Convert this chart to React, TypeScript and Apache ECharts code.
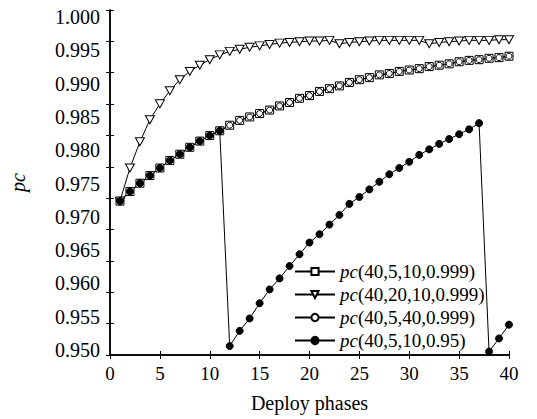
import React, { useEffect, useRef } from "react";
import * as echarts from "echarts";

const phases = [1, 2, 3, 4, 5, 6, 7, 8, 9, 10, 11, 12, 13, 14, 15, 16, 17, 18, 19, 20, 21, 22, 23, 24, 25, 26, 27, 28, 29, 30, 31, 32, 33, 34, 35, 36, 37, 38, 39, 40];

const pcA = [0.9723, 0.9737, 0.9749, 0.9760, 0.9771, 0.9782, 0.9791, 0.9801, 0.9810, 0.9818, 0.9825, 0.9833, 0.9840, 0.9845, 0.9850, 0.9855, 0.9861, 0.9866, 0.9872, 0.9876, 0.9882, 0.9886, 0.9890, 0.9895, 0.9899, 0.9902, 0.9906, 0.9908, 0.9911, 0.9913, 0.9915, 0.9918, 0.9920, 0.9922, 0.9925, 0.9927, 0.9928, 0.9930, 0.9931, 0.9933];

const pcB = [0.9723, 0.9771, 0.9809, 0.9841, 0.9864, 0.9883, 0.9899, 0.9911, 0.9920, 0.9928, 0.9935, 0.9940, 0.9943, 0.9946, 0.9948, 0.9950, 0.9952, 0.9953, 0.9954, 0.9955, 0.9955, 0.9956, 0.9951, 0.9953, 0.9954, 0.9955, 0.9956, 0.9956, 0.9956, 0.9956, 0.9956, 0.9951, 0.9953, 0.9954, 0.9955, 0.9956, 0.9956, 0.9956, 0.9957, 0.9957];

const pcC = [0.9723, 0.9737, 0.9749, 0.9760, 0.9771, 0.9782, 0.9791, 0.9801, 0.9810, 0.9818, 0.9825, 0.9833, 0.9840, 0.9845, 0.9850, 0.9855, 0.9861, 0.9866, 0.9872, 0.9876, 0.9882, 0.9886, 0.9890, 0.9895, 0.9899, 0.9902, 0.9906, 0.9908, 0.9911, 0.9913, 0.9915, 0.9918, 0.9920, 0.9922, 0.9925, 0.9927, 0.9928, 0.9930, 0.9931, 0.9933];

const pcD = [0.9723, 0.9737, 0.9749, 0.9760, 0.9771, 0.9782, 0.9791, 0.9801, 0.9810, 0.9818, 0.9825, 0.9513, 0.9535, 0.9553, 0.9575, 0.9595, 0.9611, 0.9629, 0.9646, 0.9663, 0.9675, 0.9689, 0.9703, 0.9719, 0.9729, 0.9740, 0.9751, 0.9762, 0.9771, 0.9780, 0.9790, 0.9798, 0.9806, 0.9813, 0.9820, 0.9827, 0.9836, 0.9505, 0.9524, 0.9544];

const seriesNames = ["pc(40,5,10,0.999)", "pc(40,20,10,0.999)", "pc(40,5,40,0.999)", "pc(40,5,10,0.95)"];

const FONT = "Liberation Serif";

export default function App() {
  const ref = useRef<HTMLDivElement>(null);
  useEffect(() => {
    if (!ref.current) return;
    const chart = echarts.init(ref.current, undefined, { renderer: "svg" });
    const pair = (vals: number[]) => phases.map((p, i) => [p, vals[i]]);
    const black = "#000";
    const lineStyle = { color: black, width: 1 };
    chart.setOption({
      animation: false,
      backgroundColor: "#fff",
      textStyle: { fontFamily: FONT },
      grid: [
        { left: 109, right: 28, top: 10, bottom: 64 },
        { left: 109, right: 28, top: 17, height: 333 },
      ],
      xAxis: [
        {
          gridIndex: 0, type: "value", position: "bottom", min: 0, max: 40, interval: 5,
          axisLine: { show: true, lineStyle: { color: black, width: 1.5 } },
          axisTick: { show: true, inside: true, length: 4, lineStyle: { color: black } },
          axisLabel: { color: black, fontFamily: FONT, fontSize: 19, margin: 9 },
          splitLine: { show: false },
          name: "Deploy phases", nameLocation: "middle", nameGap: 38,
          nameTextStyle: { color: black, fontFamily: FONT, fontSize: 20 },
        },
        {
          gridIndex: 0, type: "value", position: "top", min: 0, max: 40, interval: 5,
          axisLine: { show: true, lineStyle: { color: black, width: 1.5 } },
          axisTick: { show: true, inside: true, length: 4, lineStyle: { color: black } },
          axisLabel: { show: false }, splitLine: { show: false },
        },
        { gridIndex: 1, type: "value", min: 0, max: 40, show: false },
      ],
      yAxis: [
        {
          gridIndex: 0, type: "value", position: "left", min: 0.95, max: 1.0,
          axisLine: { show: true, lineStyle: { color: black, width: 1.5 } },
          axisTick: { show: false }, axisLabel: { show: false }, splitLine: { show: false },
          name: "pc", nameLocation: "middle", nameGap: 82,
          nameTextStyle: { color: black, fontFamily: FONT, fontSize: 20, fontStyle: "italic" },
        },
        {
          gridIndex: 0, type: "value", position: "right", min: 0, max: 11, interval: 1,
          axisLine: { show: true, lineStyle: { color: black, width: 1.5 } },
          axisTick: { show: true, inside: true, length: 4, lineStyle: { color: black } },
          axisLabel: { show: false }, splitLine: { show: false },
        },
        {
          gridIndex: 0, type: "value", position: "left", min: 0, max: 11, interval: 1,
          axisLine: { show: false },
          axisTick: { show: true, inside: true, length: 4, lineStyle: { color: black } },
          axisLabel: { show: false }, splitLine: { show: false },
        },
        {
          gridIndex: 1, type: "value", position: "left", min: 0.95, max: 1.0, interval: 0.005,
          axisLine: { show: false }, axisTick: { show: false }, splitLine: { show: false },
          axisLabel: {
            color: black, fontFamily: FONT, fontSize: 20, margin: 9,
            formatter: (v: number) => v.toFixed(3),
          },
        },
      ],
      legend: {
        orient: "vertical", left: 289, top: 257, itemWidth: 40, itemHeight: 9, itemGap: 4,
        selectedMode: false, data: seriesNames,
        formatter: (name: string) => `{i|pc}{n|${name.slice(2)}}`,
        textStyle: {
          color: black, fontFamily: FONT, fontSize: 19,
          rich: {
            i: { fontFamily: FONT, fontSize: 19, fontStyle: "italic", color: black },
            n: { fontFamily: FONT, fontSize: 19, color: black },
          },
        },
      },
      series: [
        {
          name: seriesNames[0], type: "line", data: pair(pcA), xAxisIndex: 0, yAxisIndex: 0,
          symbol: "rect", symbolSize: 8, lineStyle,
          itemStyle: { color: "#fff", borderColor: black, borderWidth: 1 },
        },
        {
          name: seriesNames[1], type: "line", data: pair(pcB), xAxisIndex: 0, yAxisIndex: 0,
          symbol: "triangle", symbolSize: [9, 8], symbolRotate: 180, lineStyle,
          itemStyle: { color: "#fff", borderColor: black, borderWidth: 1 },
        },
        {
          name: seriesNames[2], type: "line", data: pair(pcC), xAxisIndex: 0, yAxisIndex: 0,
          symbol: "circle", symbolSize: 6, lineStyle,
          itemStyle: { color: "#fff", borderColor: black, borderWidth: 1 },
        },
        {
          name: seriesNames[3], type: "line", data: pair(pcD), xAxisIndex: 0, yAxisIndex: 0,
          symbol: "circle", symbolSize: 7, lineStyle,
          itemStyle: { color: black, borderColor: black, borderWidth: 1 },
        },
      ],
    });
    return () => chart.dispose();
  }, []);
  return <div ref={ref} style={{ width: 537, height: 419, position: "absolute", left: 0, top: 0 }} />;
}
